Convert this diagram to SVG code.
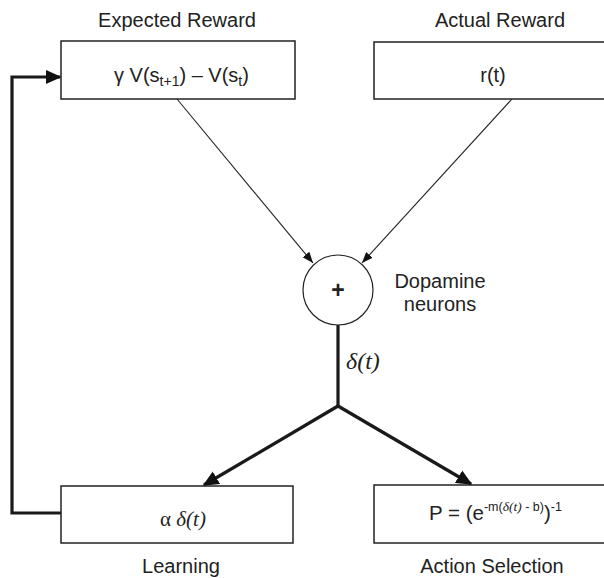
<svg xmlns="http://www.w3.org/2000/svg" width="604" height="578" viewBox="0 0 604 578">
<style>
.box{fill:#fff;stroke:#222;stroke-width:1.5}
.t{font-family:"Liberation Sans",Arial,sans-serif;fill:#222}
.i{font-family:"Liberation Serif","Times New Roman",serif;font-style:italic}
.thin{stroke:#222;stroke-width:1.1;fill:none}
.thick{stroke:#1a1a1a;stroke-width:3.2;fill:none}
</style>
<defs>
<marker id="ah" viewBox="0 0 10 10" refX="10" refY="5" markerWidth="11" markerHeight="11" markerUnits="userSpaceOnUse" orient="auto">
<path d="M0,1 L10,5 L0,9 z" fill="#111"/>
</marker>
<marker id="ahb" viewBox="0 0 10 10" refX="9" refY="5" markerWidth="5" markerHeight="5" orient="auto">
<path d="M0,0.5 L10,5 L0,9.5 z" fill="#111"/>
</marker>
</defs>
<rect width="604" height="578" fill="#fff"/>
<g id="connectors">
<line class="thin" x1="177" y1="99" x2="313" y2="263" marker-end="url(#ah)"/>
<line class="thin" x1="512" y1="99" x2="362" y2="263" marker-end="url(#ah)"/>
<line class="thick" x1="338" y1="325" x2="338" y2="406"/>
<line class="thick" x1="338" y1="406" x2="204" y2="485" marker-end="url(#ahb)"/>
<line class="thick" x1="338" y1="406" x2="471" y2="484" marker-end="url(#ahb)"/>
<polyline class="thick" points="61,513 12,513 12,77 60,77" marker-end="url(#ahb)"/>
<text class="t i" x="346" y="369" style="font-size:24px">δ(t)</text>
</g>
<g id="expected">
<text class="t" x="177" y="27" text-anchor="middle" style="font-size:20px">Expected Reward</text>
<rect class="box" x="61" y="41" width="234" height="58"/>
<text class="t" x="114" y="82" style="font-size:20px">γ V(s<tspan style="font-size:14px" dy="4">t+1</tspan><tspan dy="-4">) – V(s</tspan><tspan style="font-size:14px" dy="4">t</tspan><tspan dy="-4">)</tspan></text>
</g>
<g id="actual">
<text class="t" x="500" y="27" text-anchor="middle" style="font-size:20px">Actual Reward</text>
<rect class="box" x="374" y="42" width="240" height="57"/>
<text class="t" x="493" y="82" text-anchor="middle" style="font-size:20px">r(t)</text>
</g>
<g id="dopamine">
<circle cx="338" cy="290" r="35" fill="#fff" stroke="#222" stroke-width="1.2"/>
<text class="t" x="338" y="298" text-anchor="middle" style="font-size:23px;font-weight:bold">+</text>
<text class="t" x="440" y="288" text-anchor="middle" style="font-size:20px">Dopamine</text>
<text class="t" x="440" y="311" text-anchor="middle" style="font-size:20px">neurons</text>
</g>
<g id="learning">
<rect class="box" x="61" y="486" width="232" height="57"/>
<text class="t" x="183" y="526" text-anchor="middle" style="font-size:19px"><tspan style="font-family:'Liberation Serif',serif;font-size:21px">α</tspan> <tspan class="i" style="font-size:21px">δ(t)</tspan></text>
<text class="t" x="181" y="573" text-anchor="middle" style="font-size:20px">Learning</text>
</g>
<g id="action">
<rect class="box" x="374" y="485" width="240" height="58"/>
<text class="t" x="429" y="520" style="font-size:20.5px">P = (e<tspan style="font-size:12.5px" dy="-9">-m(</tspan><tspan class="i" style="font-size:13.5px">δ(t)</tspan><tspan style="font-size:12.5px"> - b)</tspan><tspan dy="9">)</tspan><tspan style="font-size:12.5px" dy="-9">-1</tspan></text>
<text class="t" x="492" y="573" text-anchor="middle" style="font-size:20px">Action Selection</text>
</g>
</svg>
